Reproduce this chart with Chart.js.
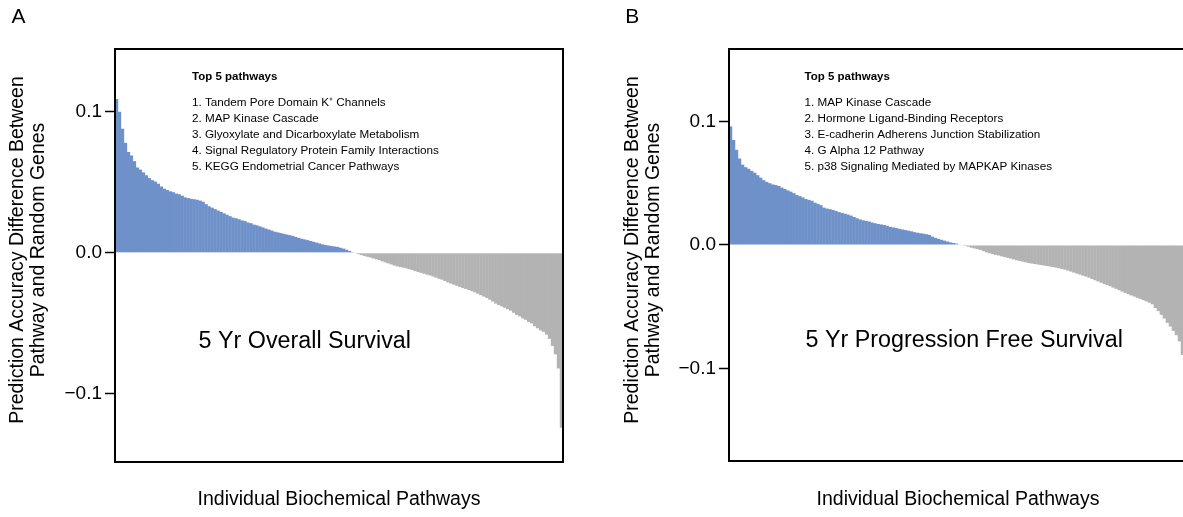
<!DOCTYPE html>
<html>
<head>
<meta charset="utf-8">
<script src="https://cdn.jsdelivr.net/npm/chart.js@4.4.1/dist/chart.umd.min.js"></script>
<style>
  html, body { margin: 0; padding: 0; background: #fff; overflow: hidden; width: 1183px; height: 517px; }
  .panel { position: absolute; top: 0; }
  #panel_a { left: 0; }
  #panel_b { left: 600px; }
</style>
</head>
<body>
<div class="panel" id="panel_a"><canvas id="overall_chart" width="600" height="517"></canvas></div>
<div class="panel" id="panel_b"><canvas id="pfs_chart" width="600" height="517"></canvas></div>
<script>
// accuracy difference (pathway - random genes), pathways sorted high to low
var overallSurvival = [
  0.109, 0.100, 0.088, 0.078, 0.0715, 0.069, 0.065, 0.0605, 0.059, 0.057,
  0.055, 0.053, 0.0515, 0.0505, 0.049, 0.047, 0.0455, 0.0445, 0.0436, 0.043,
  0.042, 0.0415, 0.0405, 0.0393, 0.0388, 0.0383, 0.038, 0.0376, 0.037, 0.0362,
  0.0345, 0.033, 0.032, 0.031, 0.030, 0.029, 0.028, 0.027, 0.026, 0.025,
  0.0245, 0.0238, 0.023, 0.0225, 0.0215, 0.021, 0.020, 0.0195, 0.0188, 0.018,
  0.0172, 0.0165, 0.0158, 0.015, 0.0145, 0.014, 0.0135, 0.013, 0.0125, 0.012,
  0.0112, 0.0106, 0.010, 0.0095, 0.009, 0.0084, 0.0078, 0.0072, 0.0066, 0.006,
  0.0055, 0.0052, 0.0048, 0.0045, 0.0042, 0.0036, 0.003, 0.0022, 0.0014, 0.0006,
  -0.0004, -0.001, -0.0016, -0.0022, -0.0028, -0.0033, -0.004, -0.0046, -0.0052, -0.006,
  -0.0068, -0.0075, -0.0082, -0.009, -0.0096, -0.0101, -0.0105, -0.011, -0.0116, -0.0122,
  -0.013, -0.0136, -0.0142, -0.0148, -0.0155, -0.016, -0.0168, -0.0176, -0.0184, -0.019,
  -0.020, -0.021, -0.0218, -0.0226, -0.0234, -0.0242, -0.025, -0.0256, -0.0264, -0.0272,
  -0.028, -0.029, -0.030, -0.031, -0.032, -0.0332, -0.0345, -0.036, -0.037, -0.038,
  -0.039, -0.040, -0.041, -0.0425, -0.044, -0.045, -0.0465, -0.0475, -0.049, -0.050,
  -0.052, -0.0535, -0.055, -0.056, -0.058, -0.061, -0.066, -0.072, -0.082, -0.124
];

var progressionFreeSurvival = [
  0.096, 0.085, 0.077, 0.070, 0.065, 0.063, 0.0617, 0.060, 0.0585, 0.0565,
  0.0545, 0.0525, 0.051, 0.050, 0.049, 0.0485, 0.0478, 0.0465, 0.0453, 0.0442,
  0.0432, 0.042, 0.0405, 0.0395, 0.0385, 0.0372, 0.0365, 0.0358, 0.0342, 0.0333,
  0.0322, 0.0302, 0.0295, 0.029, 0.0283, 0.0275, 0.0266, 0.026, 0.0253, 0.0246,
  0.0238, 0.0226, 0.0216, 0.0207, 0.020, 0.0194, 0.019, 0.0182, 0.0176, 0.017,
  0.0166, 0.0162, 0.0155, 0.0147, 0.0142, 0.0137, 0.0131, 0.0126, 0.0121, 0.0116,
  0.0111, 0.0104, 0.0099, 0.0095, 0.0092, 0.0087, 0.0082, 0.0068, 0.0058, 0.005,
  0.0042, 0.0035, 0.0028, 0.0021, 0.0016, 0.0011, 0.0005,
  -0.0003, -0.0008, -0.0014, -0.0022, -0.0028, -0.0034, -0.004, -0.005, -0.006, -0.0067,
  -0.0073, -0.008, -0.0085, -0.0092, -0.0098, -0.0104, -0.011, -0.0117, -0.0124, -0.0129,
  -0.0135, -0.014, -0.0146, -0.015, -0.0154, -0.0158, -0.0162, -0.0166, -0.017, -0.0174,
  -0.0178, -0.0183, -0.0188, -0.0194, -0.020, -0.0207, -0.0215, -0.0224, -0.0232, -0.024,
  -0.0248, -0.0256, -0.0265, -0.0275, -0.0285, -0.0295, -0.0305, -0.0315, -0.0324, -0.0334,
  -0.0345, -0.0355, -0.0366, -0.0377, -0.0388, -0.0398, -0.0408, -0.0417, -0.0427, -0.0436,
  -0.0446, -0.0456, -0.0467, -0.048, -0.051, -0.0535, -0.0565, -0.0595, -0.063, -0.066,
  -0.0695, -0.073, -0.078, -0.089, -0.105
];

var tickValues = [-0.1, 0, 0.1];
var tickLabels = ['\u22120.1', '0.0', '0.1'];
var yTitle = ['Prediction Accuracy Difference Between', 'Pathway and Random Genes'];

var topPathwaysOS = [
  '1. Tandem Pore Domain K\u207A Channels',
  '2. MAP Kinase Cascade',
  '3. Glyoxylate and Dicarboxylate Metabolism',
  '4. Signal Regulatory Protein Family Interactions',
  '5. KEGG Endometrial Cancer Pathways'
];
var topPathwaysPFS = [
  '1. MAP Kinase Cascade',
  '2. Hormone Ligand-Binding Receptors',
  '3. E-cadherin Adherens Junction Stabilization',
  '4. G Alpha 12 Pathway',
  '5. p38 Signaling Mediated by MAPKAP Kinases'
];

var FONT = '"Liberation Sans", Arial, Helvetica, sans-serif';
var BLUE = '#6f91c9';
var GREY = '#b3b3b3';

// box around the plot + the panel texts
var panelDecor = {
  id: 'panelDecor',
  afterDatasetsDraw: function (chart, args, opts) {
    var ctx = chart.ctx;
    var a = chart.chartArea;
    ctx.save();
    ctx.strokeStyle = '#000';
    ctx.lineWidth = 2;
    ctx.strokeRect(a.left, a.top, a.right - a.left, a.bottom - a.top);

    ctx.fillStyle = '#000';
    ctx.textAlign = 'left';
    ctx.textBaseline = 'alphabetic';
    ctx.font = '21px ' + FONT;
    ctx.fillText(opts.letter, opts.letterX, 23);

    ctx.font = 'bold 11.5px ' + FONT;
    ctx.fillText('Top 5 pathways', a.left + opts.listX, 80);
    ctx.font = '11.7px ' + FONT;
    opts.list.forEach(function (line, i) {
      ctx.fillText(line, a.left + opts.listX, 105.5 + i * 16);
    });

    ctx.font = '23.3px ' + FONT;
    ctx.fillText(opts.label, a.left + opts.labelX, opts.labelY);

    // two-line y title, rotated
    ctx.translate(opts.yTitleX, 250);
    ctx.rotate(-Math.PI / 2);
    ctx.textAlign = 'center';
    ctx.textBaseline = 'middle';
    ctx.font = '19.5px ' + FONT;
    yTitle.forEach(function (line, i) {
      ctx.fillText(line, 0, i * 20.8);
    });
    ctx.restore();
  }
};

function makeConfig(values, yMin, yMax, axisWidth, xTitleTop, decor) {
  return {
    type: 'bar',
    data: {
      labels: values.map(function (v, i) { return i + 1; }),
      datasets: [{
        data: values,
        backgroundColor: function (c) { return c.raw >= 0 ? BLUE : GREY; },
        borderWidth: 0,
        barPercentage: 1.15,
        categoryPercentage: 1
      }]
    },
    options: {
      responsive: false,
      animation: false,
      layout: { padding: { left: 0, top: 49, right: decor.padRight, bottom: 0 } },
      plugins: {
        legend: { display: false },
        tooltip: { enabled: false },
        panelDecor: decor
      },
      scales: {
        x: {
          ticks: { display: false },
          grid: { display: false },
          border: { display: false },
          title: {
            display: true,
            text: 'Individual Biochemical Pathways',
            color: '#000',
            font: { family: FONT, size: 19.5, lineHeight: 1.2 },
            padding: { top: xTitleTop, bottom: 5.3 }
          }
        },
        y: {
          min: yMin,
          max: yMax,
          afterBuildTicks: function (scale) {
            scale.ticks = tickValues.map(function (v) { return { value: v }; });
          },
          afterFit: function (scale) { scale.width = axisWidth; },
          ticks: {
            color: '#000',
            padding: 3,
            font: { family: FONT, size: 19 },
            callback: function (value, index) { return tickLabels[index]; }
          },
          grid: {
            drawOnChartArea: false,
            drawTicks: true,
            tickLength: 10,
            tickWidth: 1.5,
            tickColor: '#000'
          },
          border: { display: false }
        }
      }
    },
    plugins: [panelDecor]
  };
}

window.onload = function () {
  var overall_ctx = document.getElementById('overall_chart').getContext('2d');
  var overall_chart = new Chart(overall_ctx, makeConfig(overallSurvival, -0.1483, 0.1445, 115, 18.3, {
    letter: 'A', letterX: 11.5, padRight: 37, yTitleX: 18,
    list: topPathwaysOS, listX: 77,
    label: '5 Yr Overall Survival', labelX: 83.6, labelY: 348
  }));

  var pfs_ctx = document.getElementById('pfs_chart').getContext('2d');
  var pfs_chart = new Chart(pfs_ctx, makeConfig(progressionFreeSurvival, -0.1748, 0.1586, 129, 19.3, {
    letter: 'B', letterX: 25.3, padRight: 13, yTitleX: 32.5,
    list: topPathwaysPFS, listX: 75.5,
    label: '5 Yr Progression Free Survival', labelX: 76.6, labelY: 347
  }));
};
</script>
</body>
</html>
